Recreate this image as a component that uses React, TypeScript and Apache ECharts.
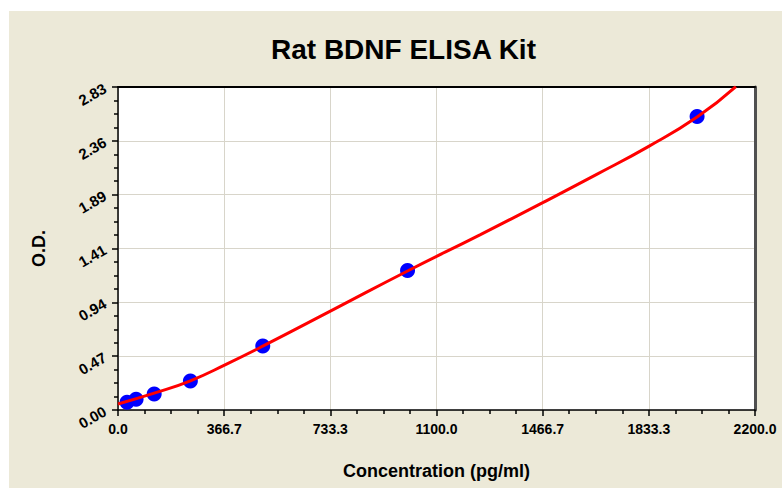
import React, { useEffect, useRef } from "react";
import * as echarts from "echarts";

const titleText = "Rat BDNF ELISA Kit";
const xName = "Concentration (pg/ml)";
const yName = "O.D.";

const xTickLabels = ["0.0", "366.7", "733.3", "1100.0", "1466.7", "1833.3", "2200.0"];
const yTickLabels = ["0.00", "0.47", "0.94", "1.41", "1.89", "2.36", "2.83"];
const xMax = 2200;
const yMax = 2.83;

const standardConc = [31.25, 62.5, 125, 250, 500, 1000, 2000];
const standardOD = [0.067, 0.094, 0.14, 0.254, 0.561, 1.222, 2.571];

const curveConc = [0, 125, 250, 375, 500, 750, 1000, 1250, 1467, 1650, 1833, 2000, 2134];
const curveOD = [0.053, 0.148, 0.256, 0.402, 0.559, 0.888, 1.218, 1.535, 1.817, 2.06, 2.31, 2.567, 2.834];

export default function App() {
  const ref = useRef<HTMLDivElement>(null);
  useEffect(() => {
    if (!ref.current) return;
    const chart = echarts.init(ref.current, null, { renderer: "svg" });
    const xInterval = xMax / 6;
    const yInterval = yMax / 6;
    const font = "'Liberation Sans', Arial, sans-serif";
    const grid = { left: 109, right: 27, top: 76, bottom: 78 };
    chart.setOption({
      animation: false,
      backgroundColor: "#ECE9D8",
      textStyle: { fontFamily: font },
      title: {
        text: titleText,
        left: 257,
        top: 19,
        textStyle: { fontSize: 28, fontWeight: "bold", color: "#000", fontFamily: font },
      },
      grid: { ...grid, show: true, backgroundColor: "#FFFFFF", borderWidth: 0 },
      xAxis: [
        {
          type: "value",
          min: 0,
          max: xMax,
          interval: xInterval,
          name: xName,
          nameLocation: "middle",
          nameGap: 52,
          nameTextStyle: { fontSize: 18, fontWeight: "bold", color: "#000" },
          axisLine: { show: true, onZero: false, lineStyle: { color: "#000", width: 1.5 } },
          axisTick: { show: true, length: 6, lineStyle: { color: "#000", width: 1.5 } },
          minorTick: { show: true, splitNumber: 4, length: 4, lineStyle: { color: "#000", width: 1.5 } },
          axisLabel: {
            fontSize: 14,
            fontWeight: "bold",
            color: "#000",
            margin: 12,
            formatter: (v: number) => xTickLabels[Math.round(v / xInterval)] ?? "",
          },
          splitLine: { show: true, lineStyle: { color: "#D8D5CA", width: 1 } },
        },
        {
          type: "value",
          position: "top",
          min: 0,
          max: xMax,
          interval: xInterval,
          axisLine: { show: true, onZero: false, lineStyle: { color: "#000", width: 2 } },
          axisTick: { show: false },
          axisLabel: { show: false },
          splitLine: { show: false },
        },
      ],
      yAxis: [
        {
          type: "value",
          min: 0,
          max: yMax,
          interval: yInterval,
          name: yName,
          nameLocation: "middle",
          nameGap: 70,
          nameTextStyle: { fontSize: 18, fontWeight: "bold", color: "#000" },
          axisLine: { show: true, onZero: false, lineStyle: { color: "#000", width: 1.5 } },
          axisTick: { show: true, length: 6, lineStyle: { color: "#000", width: 1.5 } },
          minorTick: { show: true, splitNumber: 4, length: 4, lineStyle: { color: "#000", width: 1.5 } },
          axisLabel: {
            fontSize: 15,
            fontWeight: "bold",
            color: "#000",
            margin: 13,
            rotate: 30,
            formatter: (v: number) => yTickLabels[Math.round(v / yInterval)] ?? "",
          },
          splitLine: { show: true, lineStyle: { color: "#D8D5CA", width: 1 } },
        },
        {
          type: "value",
          position: "right",
          min: 0,
          max: yMax,
          interval: yInterval,
          axisLine: { show: true, onZero: false, lineStyle: { color: "#505050", width: 3 } },
          axisTick: { show: false },
          axisLabel: { show: false },
          splitLine: { show: false },
        },
      ],
      series: [
        {
          type: "scatter",
          xAxisIndex: 0,
          yAxisIndex: 0,
          data: standardConc.map((c, i) => [c, standardOD[i]]),
          symbol: "circle",
          symbolSize: 15,
          itemStyle: { color: "#0000FF", opacity: 1 },
          z: 2,
        },
        {
          type: "line",
          xAxisIndex: 0,
          yAxisIndex: 0,
          data: curveConc.map((c, i) => [c, curveOD[i]]),
          smooth: 0.5,
          showSymbol: false,
          lineStyle: { color: "#FF0000", width: 3 },
          z: 3,
        },
      ],
    });
    return () => chart.dispose();
  }, []);
  return (
    <div style={{ position: "absolute", left: 0, top: 0, width: 782, height: 488, background: "#FFFFFF" }}>
      <div ref={ref} style={{ position: "absolute", left: 9, top: 11, width: 773, height: 477 }} />
    </div>
  );
}
